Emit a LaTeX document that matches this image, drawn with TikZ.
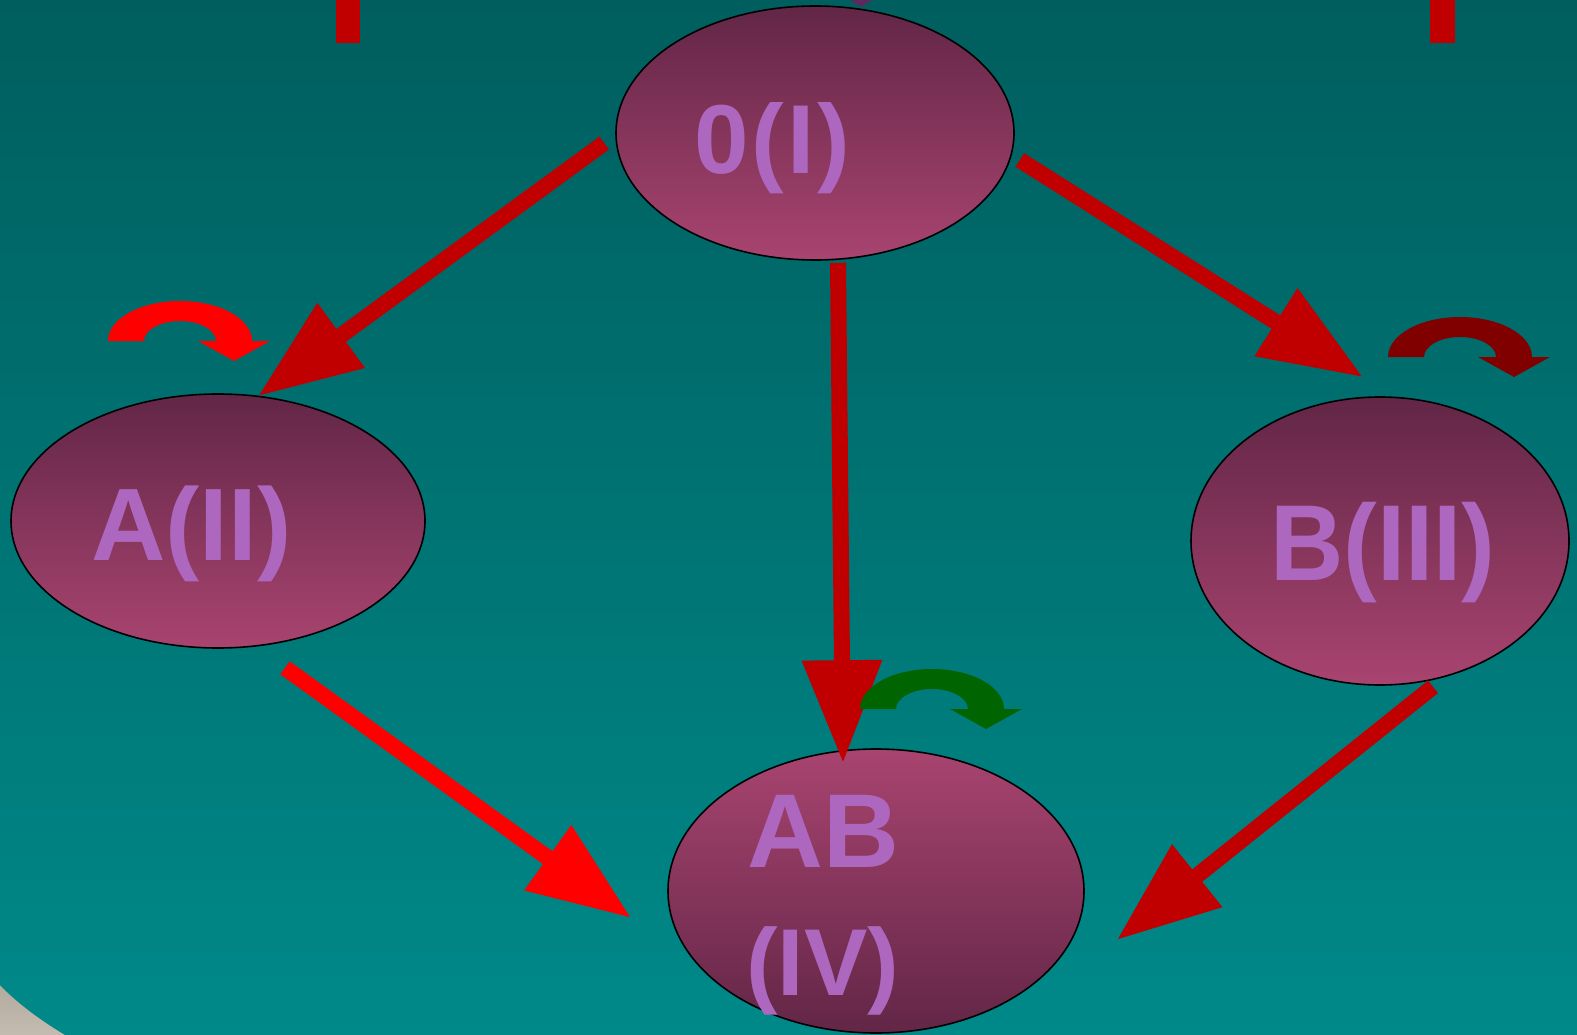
\documentclass[tikz,border=0pt]{standalone}
\usepackage{fontspec}
\setmainfont{Liberation Sans}
\usetikzlibrary{shapes.geometric,arrows.meta,calc}
\definecolor{tealtop}{RGB}{0,94,94}
\definecolor{tealbot}{RGB}{0,137,137}
\definecolor{plumdark}{RGB}{98,38,70}
\definecolor{plumlight}{RGB}{168,68,112}
\definecolor{lbl}{RGB}{173,103,190}
\definecolor{darkred}{RGB}{192,0,0}
\definecolor{brightred}{RGB}{255,0,0}
\definecolor{maroon}{RGB}{128,0,0}
\definecolor{leaf}{RGB}{0,100,0}
\definecolor{stone}{RGB}{150,140,128}
\definecolor{stonelight}{RGB}{196,188,176}
\definecolor{tinyplum}{RGB}{94,42,94}
\tikzset{
  pics/uturn/.style={code={
    \fill[#1] (-72pt,0pt) arc[start angle=180,end angle=0,x radius=72pt,y radius=40pt]
      -- (36pt,0pt) arc[start angle=0,end angle=180,x radius=36pt,y radius=20pt] -- cycle;
    \fill[#1] (18pt,0pt) -- (90pt,0pt) -- (54pt,-20pt) -- cycle;
  }}
}
\begin{document}
\begin{tikzpicture}[x=1pt,y=-1pt,
  blob/.style={ellipse,draw=black,line width=1.6pt,inner sep=0pt,
    top color=plumdark,bottom color=plumlight},
  blobrev/.style={blob,top color=plumlight,bottom color=plumdark},
  lab/.style={inner sep=0pt,anchor=base west,text=lbl,font=\bfseries},
  conn/.style={line width=16pt,-{Triangle[length=103pt,width=76pt]}},
]
\useasboundingbox (0,0) rectangle (1577,1035);
% background
\shade[top color=stone,bottom color=stonelight] (0,900) rectangle (200,1035);
\shade[top color=tealtop,bottom color=tealbot]
  (0,0) -- (1577,0) -- (1577,1035) -- (65,1035)
  .. controls (42,1021) and (18,1004) .. (0,985) -- cycle;
% bits at the top edge
\fill[darkred] (336,0) rectangle (360,43);
\fill[darkred] (1430,0) rectangle (1455,43);
\fill[tinyplum] (850,0) -- (872,0) -- (861,7) -- cycle;
% ellipses
\node[blob,minimum width=398pt,minimum height=254pt] (O) at (815,133) {};
\node[blob,minimum width=414pt,minimum height=254pt] (A) at (218,521) {};
\node[blob,minimum width=378pt,minimum height=288pt] (B) at (1380,541) {};
\node[blobrev,minimum width=416pt,minimum height=284pt] (AB) at (876,891) {};
% labels
\node[lab,font=\bfseries\fontsize{98pt}{100pt}\selectfont\addfontfeatures{LetterSpace=3}] (tO) at (694,174) {0(I)};
\node[lab,font=\bfseries\fontsize{103pt}{105pt}\selectfont] (tA) at (91,560) {A(II)};
\node[lab,font=\bfseries\fontsize{108pt}{110pt}\selectfont,xscale=0.94] (tB) at (1270,580) {B(III)};
\node[lab,font=\bfseries\fontsize{105pt}{107pt}\selectfont] (tAB) at (747,867) {AB};
\node[lab,font=\bfseries\fontsize{95pt}{97pt}\selectfont] (tIV) at (746,995) {(IV)};
% connectors
\draw[conn,darkred] ($(O.west)+(-11,10)$) -- ($(A.north)+(40,3)$);
\draw[conn,darkred] ($(O.south)+(23,2)$) -- ($(AB.north)+(-33,15)$);
\draw[conn,darkred] ($(O.east)+(5,27)$) -- ($(B.north)+(-17,-19)$);
\draw[conn,brightred] ($(A.south)+(67,19)$) -- ($(AB.west)+(-36,27)$);
\draw[conn,darkred] ($(B.south)+(53,1)$) -- ($(AB.east)+(32,49)$);
% curved self arrows
\pic at (180,341) {uturn=brightred};
\pic at (1460,357) {uturn=maroon};
\pic at (932,709) {uturn=leaf};
\end{tikzpicture}
\end{document}
